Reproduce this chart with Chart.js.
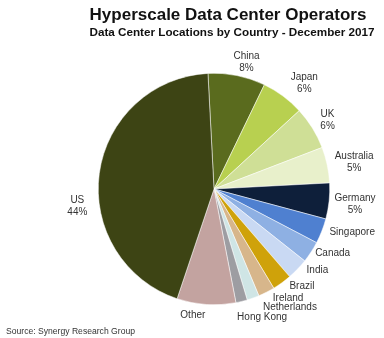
<!DOCTYPE html>
<html>
<head>
<meta charset="utf-8">
<script src="https://cdn.jsdelivr.net/npm/chart.js@4/dist/chart.umd.min.js"></script>
<style>
    html, body { margin: 0; padding: 0; background: #fff; }
</style>
</head>
<body>
<canvas id="operatorsChart" width="384" height="338"></canvas>
<script>
const countries = ['China', 'Japan', 'UK', 'Australia', 'Germany', 'Singapore', 'Canada', 'India', 'Brazil', 'Ireland', 'Netherlands', 'Hong Kong', 'Other', 'US']
const shares = [8, 6, 6, 5, 5, 3.5, 3, 3, 2.7, 2.3, 1.7, 1.6, 8.2, 44]
const shownPercent = ['8%', '6%', '6%', '5%', '5%', '', '', '', '', '', '', '', '', '44%']
const sliceColors = ['#5a6b1e', '#b8d050', '#cfdf96', '#e8f0cb', '#0e1f3a', '#4f80d0', '#8eb0e3',
    '#c9d9f3', '#cfa20a', '#d7b68b', '#cfe5e5', '#9d9da2', '#c3a3a0', '#3d4414']

// label placement around the pie (degrees moved along the rim, px outside the rim)
const labelShift = [3, 4, 0.6, 1, 0, -4, -4.7, -5.5, -6.3, -7.3, -12.9, -6.8, 5.7, -15]
const labelGap = [15, 23, 17, 27, 26, 29, 19, 16, 15, 16, 25, 21, 12, 22]

const fontFamily = '"Liberation Sans", Arial, sans-serif'

const textPlugin = {
    id: 'textPlugin',
    afterDatasetsDraw(chart) {
        const ctx = chart.ctx
        ctx.save()
        ctx.textAlign = 'center'
        ctx.textBaseline = 'middle'

        ctx.fillStyle = '#111'
        ctx.font = 'bold 17px ' + fontFamily
        ctx.fillText('Hyperscale Data Center Operators', 228, 15)
        ctx.font = 'bold 11.7px ' + fontFamily
        ctx.fillText('Data Center Locations by Country - December 2017', 232, 33)

        ctx.fillStyle = '#333'
        ctx.font = '10px ' + fontFamily
        chart.getDatasetMeta(0).data.forEach((arc, i) => {
            const {x, y, startAngle, endAngle, outerRadius} = arc.getProps(['x', 'y', 'startAngle', 'endAngle', 'outerRadius'], true)
            const angle = (startAngle + endAngle) / 2 + labelShift[i] * Math.PI / 180
            const dist = outerRadius + labelGap[i]
            const lx = x + Math.cos(angle) * dist
            const ly = y + Math.sin(angle) * dist
            if (shownPercent[i]) {
                ctx.fillText(countries[i], lx, ly - 6)
                ctx.fillText(shownPercent[i], lx, ly + 6)
            } else {
                ctx.fillText(countries[i], lx, ly)
            }
        })

        ctx.textAlign = 'left'
        ctx.font = '8.6px ' + fontFamily
        ctx.fillText('Source: Synergy Research Group', 6, 332)
        ctx.restore()
    }
}

new Chart(document.getElementById('operatorsChart'), {
    type: 'pie',
    data: {
        labels: countries,
        datasets: [{
            data: shares,
            backgroundColor: sliceColors,
            borderColor: '#ffffff',
            borderWidth: 0.5
        }]
    },
    options: {
        responsive: false,
        animation: false,
        devicePixelRatio: 1,
        rotation: -3,
        layout: {
            padding: {left: 98, right: 54, top: 73, bottom: 33}
        },
        plugins: {
            legend: {display: false},
            tooltip: {enabled: false}
        }
    },
    plugins: [textPlugin]
})
</script>
</body>
</html>
